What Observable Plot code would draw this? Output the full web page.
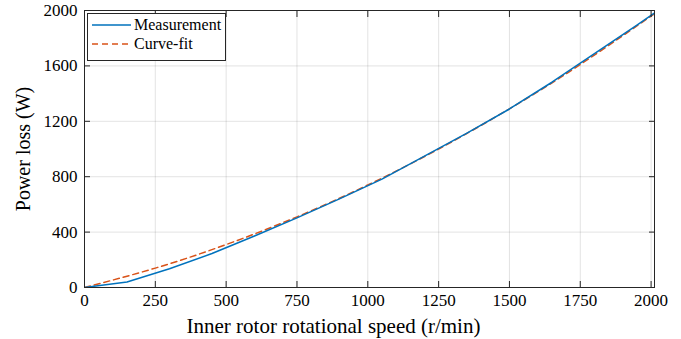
<!DOCTYPE html>
<html>
<head>
<meta charset="utf-8">
<script src="https://cdn.jsdelivr.net/npm/d3@7"></script>
<script src="https://cdn.jsdelivr.net/npm/@observablehq/plot@0.6"></script>
<style>
  html, body { margin: 0; padding: 0; background: #fff; }
  #wrap { position: relative; width: 681px; height: 339px; font-family: "Liberation Serif", "Times New Roman", serif; }
  #legend { position: absolute; left: 87px; top: 13px; width: 139px; height: 48px; background: #fff; border: 1px solid #262626; box-sizing: border-box; }
  .entry { position: absolute; left: 4px; height: 18px; display: flex; align-items: center; font-size: 16px; color: #000; white-space: nowrap; }
  .entry svg { margin-right: 3px; }
</style>
</head>
<body>
<div id="wrap"></div>
<script>
const speed = [0, 150, 300, 450, 600, 750, 900, 1050, 1200, 1350, 1500, 1650, 1800, 1950, 2010];
const measured = [0, 40, 135, 245, 372, 503, 640, 782, 948, 1115, 1289, 1482, 1688, 1895, 1980];
// Curve-fit
const fitSpeed = [0, 250, 500, 750, 1000, 1250, 1500, 1750, 2000, 2012];
const fitLoss = [0, 140, 310, 510, 740, 1000, 1290, 1610, 1960, 1978];
// Axes
const xTicks = [0, 250, 500, 750, 1000, 1250, 1500, 1750, 2000];
const yTicks = [0, 400, 800, 1200, 1600, 2000];
const xLabel = "Inner rotor rotational speed (r/min)";
const yLabel = "Power loss (W)";
const seriesNames = ["Measurement", "Curve-fit"];
const colors = ["#0072BD", "#D95319"];

const meas = speed.map((s, i) => ({s, p: measured[i]}));
const fit = fitSpeed.map((s, i) => ({s, p: fitLoss[i]}));
const ff = "Liberation Serif";
const fmt = d3.format("d");

const chart = Plot.plot({
  width: 681,
  height: 339,
  marginLeft: 84,
  marginRight: 27,
  marginTop: 10,
  marginBottom: 52,
  style: {fontFamily: "'Liberation Serif', 'Times New Roman', serif", fontSize: "17px", color: "#000", background: "#fff"},
  x: {domain: [0, 2012]},
  y: {domain: [0, 2000]},
  marks: [
    Plot.gridX(xTicks, {stroke: "#262626", strokeOpacity: 0.13}),
    Plot.gridY(yTicks, {stroke: "#262626", strokeOpacity: 0.13}),
    Plot.line(fit, {x: "s", y: "p", stroke: colors[1], strokeWidth: 1.5, strokeDasharray: "6,4", curve: "natural", clip: true}),
    Plot.line(meas, {x: "s", y: "p", stroke: colors[0], strokeWidth: 1.5, clip: true}),
    Plot.frame({stroke: "#262626", strokeWidth: 1}),
    Plot.axisX(xTicks, {anchor: "bottom", tickSize: 0, tickPadding: 6, label: null, fontSize: 17, fontFamily: ff, tickFormat: fmt}),
    Plot.axisX(xTicks, {anchor: "bottom", tickSize: -6, text: null, label: null, stroke: "#262626"}),
    Plot.axisX(xTicks, {anchor: "top", tickSize: -6, text: null, label: null, stroke: "#262626"}),
    Plot.axisY(yTicks, {anchor: "left", tickSize: 0, tickPadding: 7, label: null, fontSize: 17, fontFamily: ff, tickFormat: fmt}),
    Plot.axisY(yTicks, {anchor: "left", tickSize: -6, text: null, label: null, stroke: "#262626"}),
    Plot.axisY(yTicks, {anchor: "right", tickSize: -6, text: null, label: null, stroke: "#262626"}),
    Plot.text([xLabel], {frameAnchor: "bottom", lineAnchor: "middle", textAnchor: "middle", dx: -36, dy: 39, fontSize: 21, fontFamily: ff, fill: "#000"}),
    Plot.text([yLabel], {frameAnchor: "left", lineAnchor: "middle", textAnchor: "middle", rotate: -90, dx: -61, fontSize: 20, fontFamily: ff, fill: "#000"})
  ]
});

d3.select(chart).selectAll("g, text")
  .attr("font-family", "Liberation Serif")
  .attr("font-variant", null)
  .style("font-family", "'Liberation Serif', serif")
  .style("font-variant", "normal");

const wrap = document.getElementById("wrap");
wrap.appendChild(chart);

const legend = document.createElement("div");
legend.id = "legend";
seriesNames.forEach((name, i) => {
  const e = document.createElement("div");
  e.className = "entry";
  e.style.top = (i === 0 ? 2 : 20.5) + "px";
  const dash = i === 1 ? ' stroke-dasharray="6,4"' : '';
  e.innerHTML = `<svg width="39" height="4"><line x1="0" x2="39" y1="2" y2="2" stroke="${colors[i]}" stroke-width="1.5"${dash}/></svg><span>${name}</span>`;
  legend.appendChild(e);
});
wrap.appendChild(legend);
</script>
</body>
</html>
